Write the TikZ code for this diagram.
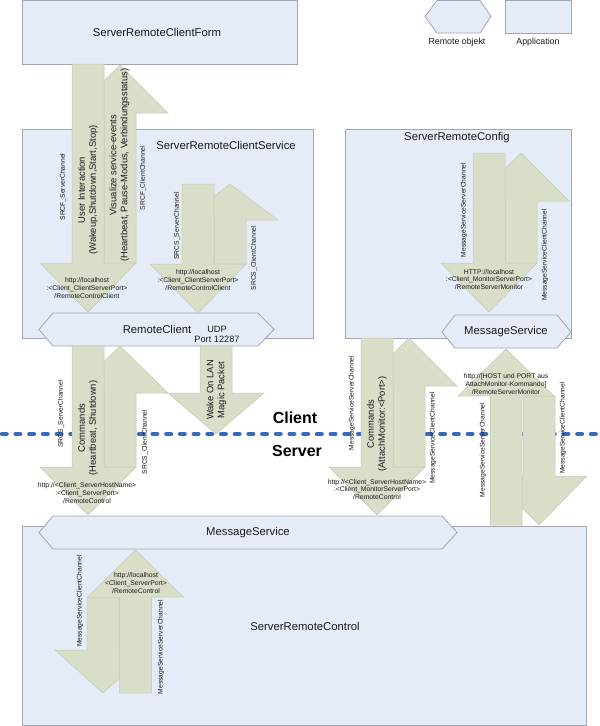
\documentclass[tikz,border=0pt]{standalone}
\usepackage{fontspec}
\setmainfont{Liberation Sans}
\definecolor{boxfill}{RGB}{230,236,247}
\definecolor{boxline}{RGB}{160,166,178}
\definecolor{arrowfill}{RGB}{217,222,201}
\definecolor{arrowline}{RGB}{196,202,180}
\definecolor{dashblue}{RGB}{55,105,188}
\definecolor{txt}{RGB}{25,25,25}
\newcommand{\DnArrow}[4]{%
  \path[blockarrow] ({#1-16},#2) -- ({#1+16},#2) -- ({#1+16},{#3-#4}) -- ({#1+48},{#3-#4}) -- (#1,#3) -- ({#1-48},{#3-#4}) -- ({#1-16},{#3-#4}) -- cycle;}
\newcommand{\UpArrow}[4]{%
  \path[blockarrow] ({#1-16},#2) -- ({#1-16},{#3+#4}) -- ({#1-48},{#3+#4}) -- (#1,#3) -- ({#1+48},{#3+#4}) -- ({#1+16},{#3+#4}) -- ({#1+16},#2) -- cycle;}
\tikzset{
  appbox/.style={fill=boxfill, draw=boxline, line width=0.8pt},
  hexbox/.style={fill=boxfill, draw=boxline, line width=0.8pt},
  blockarrow/.style={fill=arrowfill, draw=arrowline, line width=0.5pt},
  dashline/.style={draw=dashblue, line width=4.5pt, line cap=round, dash pattern=on 4.5pt off 9.2pt},
  big/.style={font=\fontsize{11.3}{13}\selectfont, text=txt, inner sep=0pt},
  rottext/.style={rotate=90, align=center, font=\fontsize{9.4}{11}\selectfont, text=txt, inner sep=0pt},
  chan/.style={rotate=90, font=\fontsize{6.7}{8}\selectfont, text=txt, inner sep=0pt},
  url/.style={align=center, font=\fontsize{6.8}{7.8}\selectfont, text=txt, inner sep=0pt},
  legend/.style={font=\fontsize{8.8}{10}\selectfont, text=txt, inner sep=0pt},
  side/.style={font=\bfseries\fontsize{16}{18}\selectfont, text=black, inner sep=0pt},
  small/.style={align=center, font=\fontsize{9.2}{10}\selectfont, text=txt, inner sep=0pt}
}
\begin{document}
\begin{tikzpicture}[x=1pt,y=-1pt]
\useasboundingbox[fill=white] (0,0) rectangle (600,726);
% application boxes
\path[appbox] (22,0.5) rectangle (297,64);
\path[appbox] (22,129) rectangle (313,338);
\path[appbox] (345,129) rectangle (571,338);
\path[appbox] (22,526) rectangle (586,725);
% legend
\path[hexbox] (425,16.5) -- (437,0.5) -- (480,0.5) -- (491,16.5) -- (480,33) -- (437,33) -- cycle;
\path[appbox] (505,0.5) rectangle (571,33);
\node[legend] (lgremote) at (457,42) {Remote objekt};
\node[legend] (lgapp) at (538,42) {Application};
% remote objects
\path[hexbox] (39,329.5) -- (53,313) -- (258,313) -- (274,329.5) -- (258,346) -- (53,346) -- cycle;
\path[hexbox] (442,332) -- (455,315) -- (557,315) -- (571,332) -- (557,348) -- (455,348) -- cycle;
\path[hexbox] (39,532.5) -- (53,516) -- (442,516) -- (457,532.5) -- (442,549) -- (53,549) -- cycle;
% client/server border
\coordinate (dl) at (2,434);
\coordinate (dr) at (600,434);
\draw[dashline] (dl) -- (dr);
% arrows: pair 1
\UpArrow{120}{263}{65}{48}
\DnArrow{88}{64}{312}{49}
% pair 2
\UpArrow{230}{264}{184}{36}
\DnArrow{198}{184}{313}{49}
% pair 3
\UpArrow{120}{467}{346}{47}
\DnArrow{88}{346}{515}{48}
% wake on lan
\DnArrow{216}{346}{434}{41}
% config pair
\UpArrow{521}{263}{153}{48}
\DnArrow{489}{153}{312}{49}
% attach monitor pair
\UpArrow{409}{467}{338}{48}
\DnArrow{377}{338}{515}{48}
% far right pair
\DnArrow{539}{396}{525}{49}
\UpArrow{506}{525}{349}{47}
% bottom pair
\DnArrow{103}{597}{693}{43}
\UpArrow{135.5}{693}{550}{47}
% box labels
\node[big] (form) at (157,32) {ServerRemoteClientForm};
\node[big] (service) at (226,145) {ServerRemoteClientService};
\node[big] (config) at (457,138) {ServerRemoteConfig};
\node[big] (control) at (305,626) {ServerRemoteControl};
\node[big] (rclient) at (157,329.5) {RemoteClient};
\node[small] (udp) at (217,334) {UDP\\Port 12287};
\node[big] (msgr) at (506,332) {MessageService};
\node[big] (msgb) at (248,532.5) {MessageService};
\node[side] (client) at (295,418) {Client};
\node[side] (server) at (297,451) {Server};
% pair 1 texts
\node[chan] (c1) at (63,187) {SRCF\_ServerChannel};
\node[rottext] (t1) at (88,190) {User Interaction\\(Wakeup,Shutdown,Start,Stop)};
\node[rottext] (t2) at (119.5,165) {Visualize service-events\\(Heartbeat, Pause-Modus, Verbindungsstatus)};
\node[chan] (c2) at (143,178) {SRCF\_ClientChannel};
\node[url] (u1) at (87,288) {http://localhost\\:<Client\_ClientServerPort>\\/RemoteControlClient};
% pair 2 texts
\node[chan] (c3) at (177,226) {SRCS\_ServerChannel};
\node[chan] (c4) at (254,258) {SRCS\_ClientChannel};
\node[url] (u2) at (198,280) {http://localhost\\:<Client\_ClientServerPort>\\/RemoteControlClient};
% pair 3 texts
\node[chan] (c5) at (61,414) {SRCS\_ServerChannel};
\node[rottext] (t3) at (88,428) {Commands\\(Heartbeat, Shutdown)};
\node[chan] (c6) at (145,442) {SRCS\_ClientChannel};
\node[url] (u3) at (87,493) {http://<Client\_ServerHostName>\\:<Client\_ServerPort>\\/RemoteControl};
% wake on lan
\node[rottext] (t4) at (216.5,390) {Wake On LAN\\Magic Packet};
% config pair texts
\node[chan] (c7) at (464,210) {MessageServiceServerChannel};
\node[chan] (c8) at (545,255) {MessageServiceClientChannel};
\node[url] (u4) at (489,279.5) {HTTP://localhost\\:<Client\_MonitorServerPort>\\/RemoteServerMonitor};
% attach monitor texts
\node[chan] (c9) at (352,403) {MessageServiceServerChannel};
\node[rottext] (t5) at (377,424) {Commands\\(AttachMonitor:<Port>)};
\node[chan] (c10) at (433,438) {MessageServiceClientChannel};
\node[url] (u5) at (377,489.5) {http://<Client\_ServerHostName>\\:<Client\_MonitorServerPort>\\/RemoteControl};
% far right texts
\node[url] (u6) at (506,384) {http://[HOST und PORT aus\\AttachMonitor-Kommando]\\/RemoteServerMonitor};
\node[chan] (c11) at (483,450) {MessageServiceServerChannel};
\node[chan] (c12) at (563,428) {MessageServiceClientChannel};
% bottom texts
\node[chan] (c13) at (80,601) {MessageServiceClientChannel};
\node[url] (u7) at (136,583) {http://localhost\\<Client\_ServerPort>\\/RemoteControl};
\node[chan] (c14) at (161,647) {MessageServiceServerChannel};
\end{tikzpicture}
\end{document}
